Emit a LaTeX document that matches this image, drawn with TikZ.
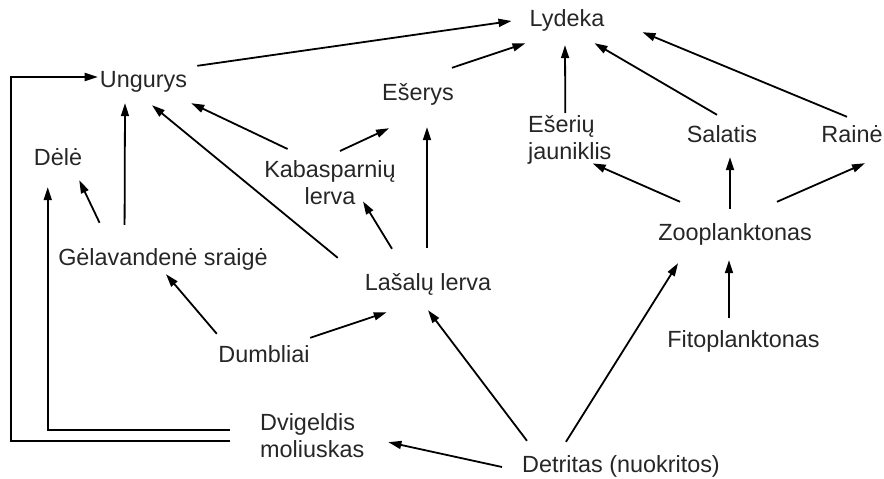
\documentclass[tikz,border=0pt]{standalone}
\usepackage{fontspec}
\setmainfont{Liberation Sans}
\usetikzlibrary{arrows.meta,calc}

\begin{document}
\begin{tikzpicture}[x=1pt, y=-1pt, font=\fontsize{23.4}{27}\selectfont]
    \tikzstyle{taxon} = [inner sep=0pt, anchor=base, text height=17pt, text depth=5pt, text=black!85]
    \tikzstyle{taxon2} = [inner sep=0pt, text=black!85]
    \tikzstyle{eats} = [-{Triangle[length=13pt, width=8pt]}, line width=1.8pt]
    \useasboundingbox (0,0) rectangle (884,479);
    % organisms
    \node[taxon] (lydeka) at (567,27) {Lydeka};
    \node[taxon] (ungurys) at (143.5,87) {Ungurys};
    \node[taxon] (eserys) at (418,100) {Ešerys};
    \node[taxon] (dele) at (58,165) {Dėlė};
    \node[taxon] (sraige) at (163,265) {Gėlavandenė sraigė};
    \node[taxon] (lasalu) at (428,290) {Lašalų lerva};
    \node[taxon] (dumbliai) at (264,362) {Dumbliai};
    \node[taxon] (salatis) at (722,142) {Salatis};
    \node[taxon] (raine) at (852,142) {Rainė};
    \node[taxon] (zoo) at (735,240) {Zooplanktonas};
    \node[taxon] (fito) at (743.5,347) {Fitoplanktonas};
    \node[taxon] (detritas) at (621,472) {Detritas (nuokritos)};
    \node[taxon2, anchor=north, align=center] (kabas) at (330,158) {\strut Kabasparnių\\\strut lerva};
    \node[taxon2, anchor=north west, align=left] (jaun) at (528,113) {\strut Ešerių\\\strut jauniklis};
    \node[taxon2, anchor=north west, align=left] (dvig) at (260,411) {\strut Dvigeldis\\\strut moliuskas};
    % who eats whom
    \draw[eats] ($(ungurys.north east)+(10,-4)$) -- ($(lydeka.west)+(-18,0)$);
    \draw[eats] ($(eserys.north east)+(-2,-15)$) -- ($(lydeka.south west)+(-4,11)$);
    \draw[eats] ($(jaun.north)+(-4.5,0)$) -- ($(lydeka.south)+(-2,13)$);
    \draw[eats] ($(salatis.north)+(-5,-10)$) -- ($(lydeka.south east)+(-10,11)$);
    \draw[eats] ($(raine.north)+(-5,-8)$) -- ($(lydeka.south east)+(38,0)$);
    \draw[eats] ($(zoo.north west)+(22,-21)$) -- ($(jaun.south east)+(-19,-4)$);
    \draw[eats] ($(zoo.north)+(-5,-14)$) -- ($(salatis.south)+(8,10)$);
    \draw[eats] ($(zoo.north east)+(-35,-21)$) -- ($(raine.south)+(13,16)$);
    \draw[eats] ($(fito.north)+(-14.5,-12)$) -- ($(zoo.south)+(-6,15)$);
    \draw[eats] ($(detritas.north west)+(44,-13)$) -- ($(zoo.south west)+(20,18)$);
    \draw[eats] ($(detritas.north west)+(5,-14)$) -- ($(lasalu.south)+(0,15)$);
    \draw[eats] ($(detritas.west)+(-20,1)$) -- ($(dvig.east)+(24,4)$);
    \draw[eats] ($(dumbliai.north east)+(0.5,-7)$) -- ($(lasalu.south west)+(22,17)$);
    \draw[eats] ($(dumbliai.north west)+(-1.5,-11)$) -- ($(sraige.south)+(3,4)$);
    \draw[eats] ($(lasalu.north)+(-36,-24)$) -- ($(kabas.south)+(33,-11)$);
    \draw[eats] ($(lasalu.north)+(-1,-25)$) -- ($(eserys.south)+(9,22)$);
    \draw[eats] ($(lasalu.north west)+(-27,-15)$) -- ($(ungurys.south)+(8.5,13)$);
    \draw[eats] ($(kabas.north west)+(23.5,-9)$) -- ($(ungurys.south east)+(4,11)$);
    \draw[eats] ($(kabas.north)+(10,-7)$) -- ($(eserys.south west)+(7,23)$);
    \draw[eats] ($(sraige.north west)+(66.5,-23)$) -- ($(ungurys.south)+(-18.5,11)$);
    \draw[eats] ($(sraige.north west)+(41.5,-25)$) -- ($(dele.south east)+(-3,10)$);
    \draw[eats] ($(dvig.north west)+(-30,19)$) -| ($(dele.south west)+(14,17)$);
    \draw[eats] ($(dvig.west)+(-30,3)$) -- ++(-219,0) |- ($(ungurys.west)+(-2,-4)$);
\end{tikzpicture}
\end{document}
